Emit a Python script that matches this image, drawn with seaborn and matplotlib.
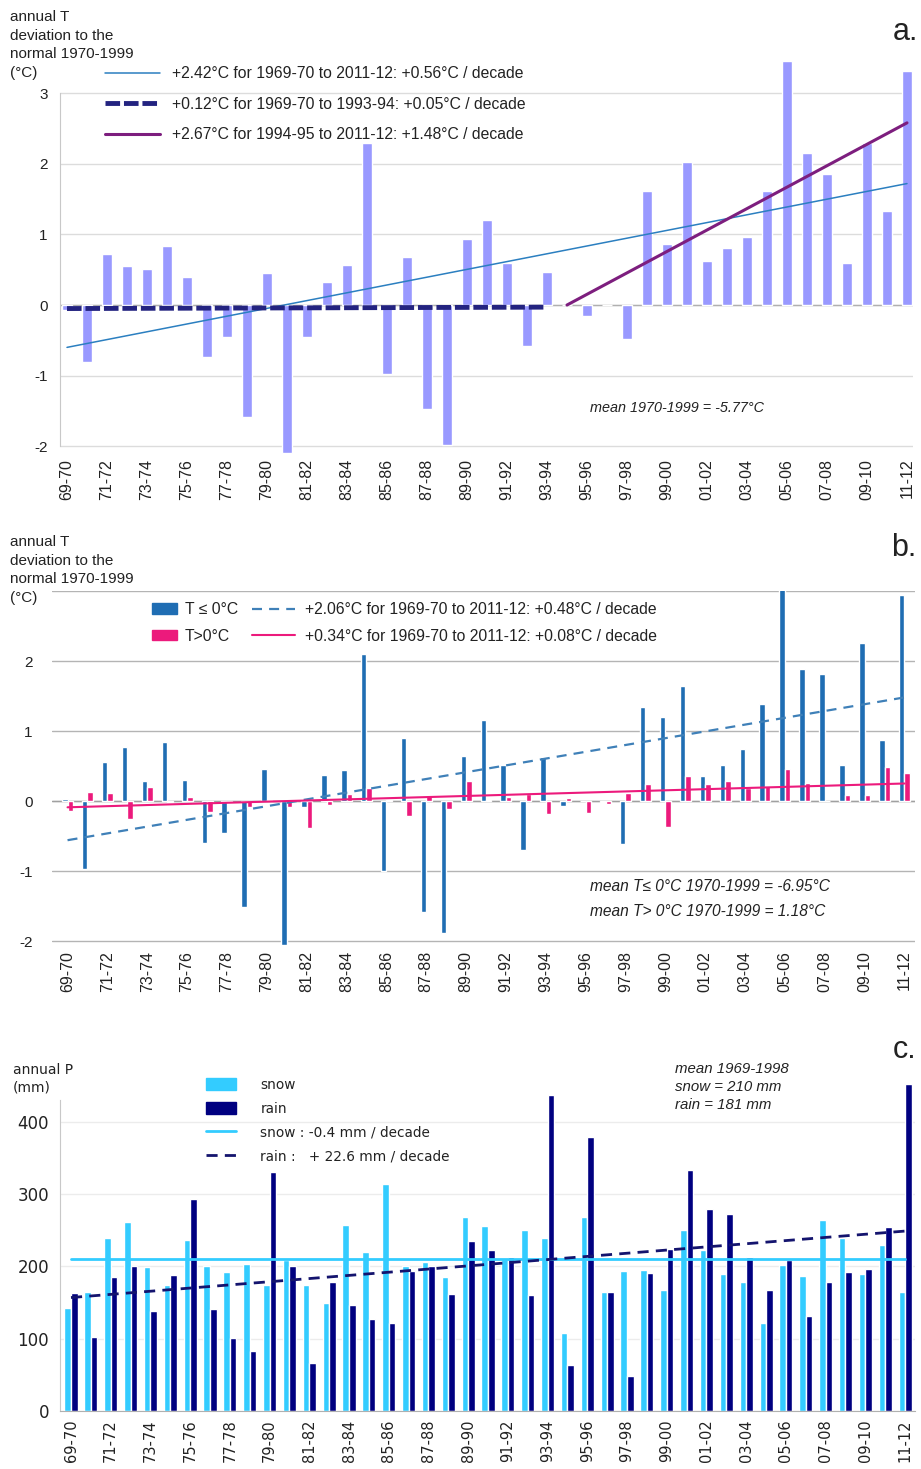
import matplotlib
matplotlib.use("Agg")
import pandas as pd
import matplotlib.pyplot as plt
from matplotlib.lines import Line2D
from matplotlib.patches import Patch
import seaborn as sns

# hydrological years 1969-70 .. 2011-12
seasons = ["69-70", "70-71", "71-72", "72-73", "73-74", "74-75", "75-76", "76-77",
           "77-78", "78-79", "79-80", "80-81", "81-82", "82-83", "83-84", "84-85",
           "85-86", "86-87", "87-88", "88-89", "89-90", "90-91", "91-92", "92-93",
           "93-94", "94-95", "95-96", "96-97", "97-98", "98-99", "99-00", "00-01",
           "01-02", "02-03", "03-04", "04-05", "05-06", "06-07", "07-08", "08-09",
           "09-10", "10-11", "11-12"]

# a. annual T deviation (°C)
dev_T = [-0.07, -0.80, 0.72, 0.55, 0.51, 0.84, 0.39, -0.73, -0.46, -1.58, 0.46,
         -2.10, -0.45, 0.32, 0.56, 2.30, -0.97, 0.68, -1.47, -1.98, 0.94, 1.20,
         0.60, -0.58, 0.47, 0.00, -0.15, 0.00, -0.48, 1.61, 0.86, 2.02, 0.62,
         0.81, 0.96, 1.62, 3.45, 2.15, 1.85, 0.60, 2.30, 1.33, 3.32]
trend_all_ends, trend_all_vals = ["69-70", "11-12"], [-0.60, 1.72]
trend_early_ends, trend_early_vals = ["69-70", "93-94"], [-0.05, -0.03]
trend_late_ends, trend_late_vals = ["94-95", "11-12"], [0.00, 2.58]

# b. deviation for T<=0 and T>0 days
dev_cold = [0.03, -0.97, 0.56, 0.77, 0.29, 0.84, 0.30, -0.60, -0.46, -1.52, 0.46,
            -2.05, -0.08, 0.37, 0.44, 2.10, -1.00, 0.90, -1.58, -1.88, 0.64, 1.16,
            0.52, -0.70, 0.63, -0.07, 0.00, -0.02, -0.62, 1.35, 1.20, 1.65, 0.36,
            0.51, 0.75, 1.39, 3.10, 1.88, 1.81, 0.51, 2.26, 0.87, 2.94]
dev_warm = [-0.14, 0.13, 0.12, -0.25, 0.20, -0.02, 0.06, -0.16, -0.02, -0.09, 0.01,
            -0.08, -0.39, -0.05, 0.10, 0.19, 0.02, -0.22, 0.07, -0.12, 0.29, 0.02,
            0.06, 0.10, -0.19, 0.05, -0.17, -0.04, 0.11, 0.24, -0.37, 0.36, 0.24,
            0.28, 0.19, 0.21, 0.46, 0.26, 0.00, 0.08, 0.08, 0.49, 0.40]
trend_cold_vals = [-0.56, 1.48]
trend_warm_vals = [-0.09, 0.25]

# c. annual precipitation (mm)
snow = [142, 165, 240, 261, 199, 174, 237, 201, 193, 204, 175, 209, 174, 150, 257,
        220, 314, 200, 206, 186, 268, 256, 211, 250, 240, 108, 268, 164, 194, 195,
        168, 250, 223, 190, 178, 122, 202, 187, 264, 240, 190, 230, 165]
rain = [163, 102, 185, 200, 138, 188, 293, 141, 101, 83, 331, 200, 67, 179, 147,
        128, 122, 194, 201, 162, 235, 223, 213, 160, 437, 64, 379, 165, 49, 191,
        224, 333, 280, 272, 213, 168, 209, 131, 178, 193, 197, 255, 453]
trend_snow_vals = [210, 210]
trend_rain_vals = [157, 249]
full_ends = ["69-70", "11-12"]

sns.set_style("white")
plt.rcParams["font.family"] = ["Liberation Sans", "DejaVu Sans"]
plt.rcParams["axes.unicode_minus"] = False

W, H = 921, 1469
fig = plt.figure(figsize=(W / 100, H / 100), dpi=100)


def px_axes(left, top, right, bottom):
    return fig.add_axes([left / W, 1 - bottom / H, (right - left) / W, (bottom - top) / H])


def idx(names):
    return [seasons.index(s) for s in names]


def ftext(x, y, s, **kw):
    fig.text(x / W, 1 - y / H, s, **kw)


txt = "#222222"
leg_fs = 11.3
leg_kw = dict(loc="upper left", bbox_transform=fig.transFigure, frameon=False,
              borderpad=0, borderaxespad=0, labelcolor=txt)

# ---------------- panel a ----------------
ax_a = px_axes(60, 57.9, 913, 454.7)
df_a = pd.DataFrame({"season": seasons, "dev": dev_T})
sns.barplot(data=df_a, x="season", y="dev", order=seasons, color="#9999ff",
            saturation=1, width=0.5, ax=ax_a, zorder=2)
ax_a.axhline(0, color="#b0b0b0", lw=1, zorder=1)
l1, = ax_a.plot(idx(trend_all_ends), trend_all_vals, color="#2b7fc0", lw=1.1, zorder=3)
l2, = ax_a.plot(idx(trend_early_ends), trend_early_vals, color="#232380", lw=3.5,
                dashes=(3, 0.8), zorder=3)
l3, = ax_a.plot(idx(trend_late_ends), trend_late_vals, color="#7d1e7e", lw=2.2, zorder=3)
ax_a.set_xlim(-0.35, 42.3)
ax_a.set_ylim(-2.12, 3.5)
ax_a.set_yticks([-2, -1, 0, 1, 2, 3])
ax_a.yaxis.grid(True, color="#dcdcdc", lw=1)
ax_a.set_axisbelow(True)
ax_a.set_xticks(range(0, 43, 2))
ax_a.set_xticklabels(seasons[::2], rotation=90, fontsize=11.5, color=txt)
ax_a.tick_params(axis="y", labelsize=11, labelcolor=txt, length=0, pad=9)
ax_a.tick_params(axis="x", length=0, pad=3)
ax_a.set_xlabel("")
ax_a.set_ylabel("")
for s in ["top", "right", "bottom"]:
    ax_a.spines[s].set_visible(False)
ax_a.spines["left"].set_color("#c8c8c8")
ax_a.spines["left"].set_bounds(-2, 3)
ax_a.legend([l1, l2, l3],
            ["+2.42°C for 1969-70 to 2011-12: +0.56°C / decade",
             "+0.12°C for 1969-70 to 1993-94: +0.05°C / decade",
             "+2.67°C for 1994-95 to 2011-12: +1.48°C / decade"],
            bbox_to_anchor=(105 / W, 1 - 66 / H),
            handlelength=3.5, handletextpad=0.75, labelspacing=1.0,
            fontsize=leg_fs, **leg_kw)

ftext(10, 10, "annual T\ndeviation to the\nnormal 1970-1999\n(°C)", fontsize=11,
      va="top", ha="left", color=txt, linespacing=1.42)
ftext(905, 32, "a.", fontsize=22, ha="center", va="center", color=txt)
ftext(590, 408, "mean 1970-1999 = -5.77°C", fontsize=10.4, style="italic",
      va="center", ha="left", color=txt)

# ---------------- panel b ----------------
c_cold, c_warm = "#1f6db3", "#ec1a7c"
ax_b = px_axes(52, 591, 915, 945.2)
df_b = pd.DataFrame({"season": seasons * 2, "dev": dev_cold + dev_warm,
                     "kind": ["cold"] * len(seasons) + ["warm"] * len(seasons)})
sns.barplot(data=df_b, x="season", y="dev", hue="kind", order=seasons,
            palette=[c_cold, c_warm], saturation=1, width=0.55, ax=ax_b,
            legend=False, zorder=2)
ax_b.axhline(0, color="#a0a0a0", lw=1, zorder=1)
lb1, = ax_b.plot(idx(full_ends), trend_cold_vals, color="#3f80b8", lw=1.6,
                 dashes=(4.5, 3.2), zorder=3)
lb2, = ax_b.plot(idx(full_ends), trend_warm_vals, color=c_warm, lw=1.5, zorder=3)
ax_b.set_xlim(-0.78, 42.53)
ax_b.set_ylim(-2.06, 3.0)
ax_b.set_yticks([-2, -1, 0, 1, 2, 3])
ax_b.set_yticklabels(["-2", "-1", "0", "1", "2", ""])
ax_b.yaxis.grid(True, color="#b4b4b4", lw=1)
ax_b.set_axisbelow(True)
ax_b.set_xticks(range(0, 43, 2))
ax_b.set_xticklabels(seasons[::2], rotation=90, fontsize=11.5, color=txt)
ax_b.tick_params(axis="y", labelsize=11, labelcolor=txt, length=0, pad=14)
ax_b.tick_params(axis="x", length=0, pad=4)
ax_b.set_xlabel("")
ax_b.set_ylabel("")
for s in ["top", "right", "bottom", "left"]:
    ax_b.spines[s].set_visible(False)
leg_b1 = ax_b.legend([Patch(color=c_cold), Patch(color=c_warm)], ["T ≤ 0°C", "T>0°C"],
                     bbox_to_anchor=(152 / W, 1 - 602 / H),
                     handlelength=1.6, handleheight=0.65, handletextpad=0.5,
                     labelspacing=0.75, fontsize=leg_fs, **leg_kw)
ax_b.add_artist(leg_b1)
ax_b.legend([lb1, lb2],
            ["+2.06°C for 1969-70 to 2011-12: +0.48°C / decade",
             "+0.34°C for 1969-70 to 2011-12: +0.08°C / decade"],
            bbox_to_anchor=(252 / W, 1 - 602 / H),
            handlelength=2.75, handleheight=0.65, handletextpad=0.62,
            labelspacing=0.75, fontsize=leg_fs, **leg_kw)

ftext(10, 535, "annual T\ndeviation to the\nnormal 1970-1999\n(°C)", fontsize=11,
      va="top", ha="left", color=txt, linespacing=1.42)
ftext(904, 548, "b.", fontsize=22, ha="center", va="center", color=txt)
ftext(590, 887, "mean T≤ 0°C 1970-1999 = -6.95°C", fontsize=11.2, style="italic",
      va="center", ha="left", color=txt)
ftext(590, 911, "mean T> 0°C 1970-1999 = 1.18°C", fontsize=11.2, style="italic",
      va="center", ha="left", color=txt)

# ---------------- panel c ----------------
c_snow, c_rain = "#33ccff", "#000080"
ax_c = px_axes(60, 1078.6, 915, 1411)
df_c = pd.DataFrame({"season": seasons * 2, "P": snow + rain,
                     "kind": ["snow"] * len(seasons) + ["rain"] * len(seasons)})
sns.barplot(data=df_c, x="season", y="P", hue="kind", order=seasons,
            palette=[c_snow, c_rain], saturation=1, width=0.66, ax=ax_c,
            legend=False, zorder=2)
lc1, = ax_c.plot(idx(full_ends), trend_snow_vals, color=c_snow, lw=2, zorder=3)
lc2, = ax_c.plot(idx(full_ends), trend_rain_vals, color="#14146e", lw=2,
                 dashes=(4, 2.6), zorder=3)
ax_c.set_xlim(-0.554, 42.5)
ax_c.set_ylim(0, 460)
ax_c.set_yticks([0, 100, 200, 300, 400])
ax_c.yaxis.grid(True, color="#ececec", lw=1)
ax_c.set_axisbelow(True)
ax_c.set_xticks(range(0, 43, 2))
ax_c.set_xticklabels(seasons[::2], rotation=90, fontsize=10.5, color=txt,
                     family="DejaVu Sans")
for lab in ax_c.get_yticklabels():
    lab.set_family("DejaVu Sans")
ax_c.tick_params(axis="y", labelsize=12, labelcolor=txt, length=0, pad=8)
ax_c.tick_params(axis="x", length=0, pad=6)
ax_c.set_xlabel("")
ax_c.set_ylabel("")
for s in ["top", "right"]:
    ax_c.spines[s].set_visible(False)
ax_c.spines["bottom"].set_color("#b0b0b0")
ax_c.spines["left"].set_color("#c8c8c8")
ax_c.spines["left"].set_bounds(0, 430)
ax_c.legend([Patch(color=c_snow), Patch(color=c_rain), lc1, lc2],
            ["snow", "rain", "snow : -0.4 mm / decade", "rain :   + 22.6 mm / decade"],
            bbox_to_anchor=(206 / W, 1 - 1078 / H),
            handlelength=2.2, handleheight=0.95, handletextpad=1.8,
            labelspacing=0.72, prop={"family": "DejaVu Sans", "size": 9.8}, **leg_kw)

ftext(13, 1063, "annual P\n(mm)", fontsize=10, va="top", ha="left", color=txt,
      linespacing=1.3, family="DejaVu Sans")
ftext(905, 1050, "c.", fontsize=22, ha="center", va="center", color=txt)
ftext(675, 1062, "mean 1969-1998\nsnow = 210 mm\nrain = 181 mm", fontsize=10.8,
      style="italic", va="top", ha="left", color=txt, linespacing=1.35)

fig.savefig("out.png", dpi=100)
